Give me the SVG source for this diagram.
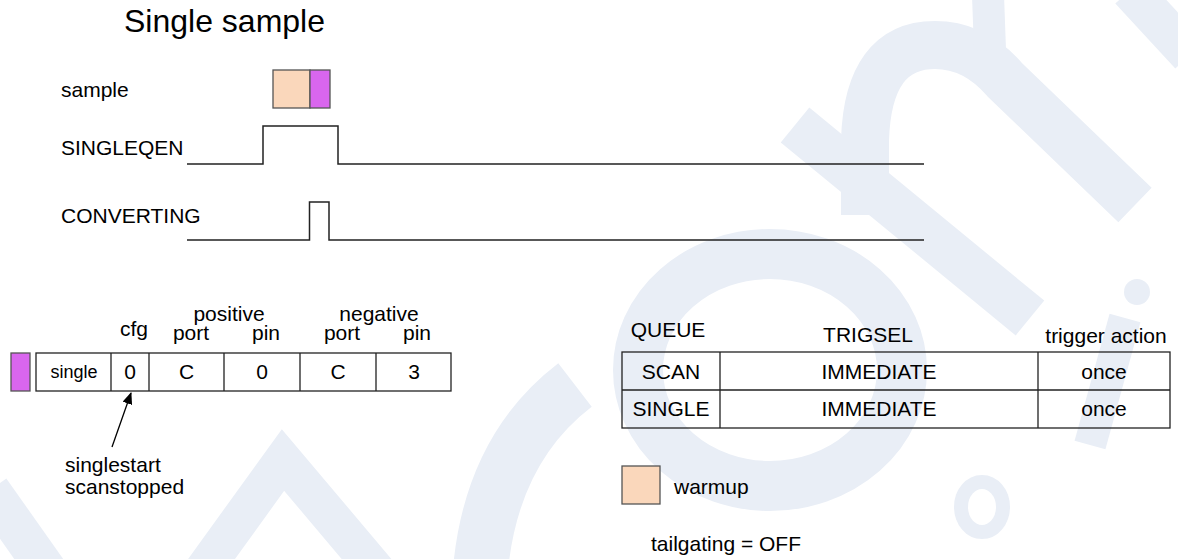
<svg xmlns="http://www.w3.org/2000/svg" width="1178" height="559" viewBox="0 0 1178 559">
<style>
  text { font-family: "Liberation Sans", Arial, Helvetica, sans-serif; fill: #000; font-size: 21px; }
  .mid { text-anchor: middle; }
  .title { font-size: 32px; }
  .small { font-size: 18px; }
  .wave { fill: none; stroke: #222; stroke-width: 1.5; }
  .grid { fill: none; stroke: #222; stroke-width: 1.3; }
  .wm { fill: none; stroke: #e9eef6; }
  .warm { fill: #fad7bb; stroke: #555; stroke-width: 1.3; }
  .conv { fill: #d966ee; stroke: #555; stroke-width: 1.3; }
</style>
<defs>
  <marker id="arrow" viewBox="0 0 12 10" refX="11" refY="5" markerWidth="12" markerHeight="10" markerUnits="userSpaceOnUse" orient="auto">
    <path d="M0,0 L12,5 L0,10 Z" fill="#000"/>
  </marker>
</defs>
<rect width="1178" height="559" fill="#fff"/>
<g id="watermark">
  <path class="wm" d="M 480 575 Q 490 450 575 385" stroke-width="55"/>
  <path class="wm" d="M 200 575 L 283 460 L 380 575" stroke-width="38"/>
  <path class="wm" d="M -10 490 L 50 575" stroke-width="40"/>
  <ellipse class="wm" cx="770" cy="370" rx="132" ry="116" stroke-width="50"/>
  <path class="wm" d="M 795 125 L 1030 318" stroke-width="45"/>
  <path class="wm" d="M 865 215 L 865 140 Q 868 45 935 45 Q 975 45 1005 80 L 1135 205" stroke-width="48"/>
  <path class="wm" d="M 988 -5 L 990 50" stroke-width="32"/>
  <path class="wm" d="M 1125 318 L 1090 445" stroke-width="32"/>
  <circle cx="1137" cy="292" r="13" fill="#e9eef6"/>
  <ellipse class="wm" cx="982" cy="507" rx="21" ry="25" stroke-width="14"/>
  <path class="wm" d="M 1130 -10 L 1190 55" stroke-width="40"/>
</g>
<g id="title"><text class="title" x="124" y="32">Single sample</text></g>
<g id="sample">
  <text x="61" y="97">sample</text>
  <rect class="warm" x="273" y="70" width="37" height="38"/>
  <rect class="conv" x="310" y="70" width="20" height="38"/>
</g>
<g id="singleqen">
  <text x="61" y="155">SINGLEQEN</text>
  <path class="wave" d="M187,164 H263 V126 H338 V164 H924"/>
</g>
<g id="converting">
  <text x="61" y="223">CONVERTING</text>
  <path class="wave" d="M187,240 H309.5 V202 H329 V240 H924"/>
</g>
<g id="config-table">
  <rect class="conv" x="11" y="353" width="19" height="38"/>
  <rect class="grid" x="36" y="353" width="415" height="38"/>
  <path class="grid" d="M111,353 V391 M149,353 V391 M224,353 V391 M300,353 V391 M376,353 V391"/>
  <text class="mid" x="134" y="336">cfg</text>
  <text class="mid" x="229" y="321">positive</text>
  <text class="mid" x="191" y="340">port</text>
  <text class="mid" x="266" y="340">pin</text>
  <text class="mid" x="379" y="321">negative</text>
  <text class="mid" x="342" y="340">port</text>
  <text class="mid" x="417" y="340">pin</text>
  <text class="mid small" x="74" y="378">single</text>
  <text class="mid" x="130" y="379">0</text>
  <text class="mid" x="186.5" y="379">C</text>
  <text class="mid" x="262" y="379">0</text>
  <text class="mid" x="338" y="379">C</text>
  <text class="mid" x="414" y="379">3</text>
</g>
<g id="connectors">
  <line x1="112" y1="447" x2="131" y2="393" stroke="#000" stroke-width="1.3" marker-end="url(#arrow)"/>
</g>
<g id="note">
  <text x="65" y="472">singlestart</text>
  <text x="65" y="494">scanstopped</text>
</g>
<g id="queue-table">
  <text class="mid" x="668" y="337">QUEUE</text>
  <text class="mid" x="868" y="342">TRIGSEL</text>
  <text class="mid" x="1106" y="343">trigger action</text>
  <rect class="grid" x="622" y="352" width="548" height="76"/>
  <path class="grid" d="M622,390 H1170 M720,352 V428 M1038,352 V428"/>
  <text class="mid" x="671" y="379">SCAN</text>
  <text class="mid" x="879" y="379">IMMEDIATE</text>
  <text class="mid" x="1104" y="379">once</text>
  <text class="mid" x="671" y="416">SINGLE</text>
  <text class="mid" x="879" y="416">IMMEDIATE</text>
  <text class="mid" x="1104" y="416">once</text>
</g>
<g id="legend">
  <rect class="warm" x="622" y="466" width="38" height="38"/>
  <text x="674" y="494">warmup</text>
  <text x="651" y="551">tailgating = OFF</text>
</g>
</svg>
